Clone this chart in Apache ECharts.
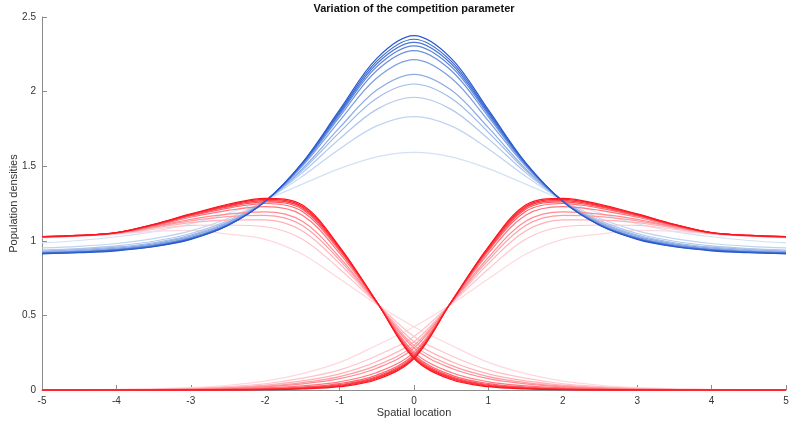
<!DOCTYPE html>
<html>
<head>
<meta charset="utf-8">
<script src="https://cdn.jsdelivr.net/npm/echarts@6/dist/echarts.min.js"></script>
<style>
  html, body { margin: 0; padding: 0; background: #fff; }
  #chart { width: 794px; height: 427px; }
</style>
</head>
<body>
<div id="chart"></div>
<script>
// spatial sample points
const xs = [-5, -4.5, -4, -3.5, -3, -2.5, -2, -1.5, -1, -0.5, 0, 0.5, 1, 1.5, 2, 2.5, 3, 3.5, 4, 4.5, 5]

// middle species (blue), lightest -> darkest
const blueDensity = [
  [0.986, 1.002, 1.027, 1.062, 1.114, 1.185, 1.275, 1.380, 1.484, 1.563, 1.593, 1.563, 1.484, 1.380, 1.275, 1.185, 1.114, 1.062, 1.027, 1.002, 0.986],
  [0.952, 0.963, 0.982, 1.015, 1.067, 1.149, 1.271, 1.433, 1.616, 1.770, 1.832, 1.770, 1.616, 1.433, 1.271, 1.149, 1.067, 1.015, 0.982, 0.963, 0.952],
  [0.938, 0.948, 0.966, 0.997, 1.049, 1.135, 1.268, 1.457, 1.683, 1.881, 1.962, 1.881, 1.683, 1.457, 1.268, 1.135, 1.049, 0.997, 0.966, 0.948, 0.938],
  [0.931, 0.941, 0.957, 0.987, 1.039, 1.126, 1.267, 1.473, 1.727, 1.956, 2.051, 1.956, 1.727, 1.473, 1.267, 1.126, 1.039, 0.987, 0.957, 0.941, 0.931],
  [0.926, 0.935, 0.951, 0.980, 1.031, 1.120, 1.267, 1.484, 1.758, 2.010, 2.116, 2.010, 1.758, 1.484, 1.267, 1.120, 1.031, 0.980, 0.951, 0.935, 0.926],
  [0.922, 0.930, 0.945, 0.973, 1.023, 1.113, 1.265, 1.500, 1.804, 2.091, 2.214, 2.091, 1.804, 1.500, 1.265, 1.113, 1.023, 0.973, 0.945, 0.930, 0.922],
  [0.919, 0.927, 0.941, 0.968, 1.019, 1.109, 1.265, 1.509, 1.831, 2.141, 2.274, 2.141, 1.831, 1.509, 1.265, 1.109, 1.019, 0.968, 0.941, 0.927, 0.919],
  [0.918, 0.925, 0.940, 0.966, 1.016, 1.107, 1.264, 1.514, 1.846, 2.167, 2.306, 2.167, 1.846, 1.514, 1.264, 1.107, 1.016, 0.966, 0.940, 0.925, 0.918],
  [0.917, 0.924, 0.938, 0.965, 1.014, 1.105, 1.264, 1.517, 1.856, 2.187, 2.330, 2.187, 1.856, 1.517, 1.264, 1.105, 1.014, 0.965, 0.938, 0.924, 0.917],
  [0.915, 0.922, 0.936, 0.962, 1.012, 1.104, 1.264, 1.520, 1.866, 2.204, 2.351, 2.204, 1.866, 1.520, 1.264, 1.104, 1.012, 0.962, 0.936, 0.922, 0.915],
  [0.913, 0.920, 0.933, 0.960, 1.010, 1.102, 1.264, 1.524, 1.877, 2.223, 2.375, 2.223, 1.877, 1.524, 1.264, 1.102, 1.010, 0.960, 0.933, 0.920, 0.913]
]

// left species (red), lightest -> darkest
const leftRed = [
  [1.020, 1.030, 1.045, 1.063, 1.070, 1.045, 1.010, 0.910, 0.745, 0.575, 0.424, 0.300, 0.185, 0.110, 0.060, 0.032, 0.016, 0.008, 0.004, 0.002, 0.001],
  [1.022, 1.032, 1.048, 1.077, 1.104, 1.106, 1.094, 1.011, 0.811, 0.580, 0.359, 0.230, 0.135, 0.079, 0.042, 0.023, 0.011, 0.006, 0.003, 0.001, 0.001],
  [1.024, 1.033, 1.050, 1.085, 1.122, 1.139, 1.140, 1.066, 0.847, 0.582, 0.323, 0.191, 0.108, 0.061, 0.033, 0.017, 0.008, 0.004, 0.002, 0.001, 0.001],
  [1.025, 1.034, 1.051, 1.091, 1.134, 1.162, 1.171, 1.103, 0.871, 0.584, 0.299, 0.165, 0.090, 0.050, 0.026, 0.014, 0.007, 0.003, 0.002, 0.001, 0.000],
  [1.025, 1.034, 1.052, 1.094, 1.144, 1.179, 1.194, 1.131, 0.889, 0.585, 0.281, 0.146, 0.076, 0.041, 0.021, 0.011, 0.005, 0.003, 0.001, 0.001, 0.000],
  [1.026, 1.035, 1.053, 1.100, 1.158, 1.204, 1.229, 1.172, 0.916, 0.587, 0.254, 0.117, 0.055, 0.028, 0.014, 0.007, 0.003, 0.002, 0.001, 0.000, 0.000],
  [1.027, 1.035, 1.054, 1.104, 1.166, 1.219, 1.250, 1.197, 0.932, 0.588, 0.238, 0.100, 0.043, 0.020, 0.010, 0.005, 0.002, 0.001, 0.001, 0.000, 0.000],
  [1.027, 1.036, 1.054, 1.106, 1.170, 1.227, 1.261, 1.211, 0.941, 0.589, 0.229, 0.090, 0.036, 0.016, 0.007, 0.004, 0.001, 0.001, 0.000, 0.000, 0.000],
  [1.028, 1.036, 1.054, 1.107, 1.174, 1.234, 1.269, 1.221, 0.948, 0.589, 0.222, 0.083, 0.031, 0.013, 0.005, 0.002, 0.001, 0.000, 0.000, 0.000, 0.000],
  [1.028, 1.036, 1.055, 1.109, 1.177, 1.239, 1.277, 1.230, 0.954, 0.590, 0.216, 0.077, 0.027, 0.010, 0.004, 0.001, 0.001, 0.000, 0.000, 0.000, 0.000],
  [1.028, 1.036, 1.055, 1.110, 1.180, 1.245, 1.285, 1.240, 0.960, 0.590, 0.210, 0.070, 0.022, 0.007, 0.002, 0.001, 0.000, 0.000, 0.000, 0.000, 0.000]
]

// right species (red), lightest -> darkest
const rightRed = [
  [0.001, 0.002, 0.004, 0.008, 0.016, 0.032, 0.060, 0.110, 0.185, 0.300, 0.424, 0.575, 0.745, 0.910, 1.010, 1.045, 1.070, 1.063, 1.045, 1.030, 1.020],
  [0.001, 0.001, 0.003, 0.006, 0.011, 0.023, 0.042, 0.079, 0.135, 0.230, 0.359, 0.580, 0.811, 1.011, 1.094, 1.106, 1.104, 1.077, 1.048, 1.032, 1.022],
  [0.001, 0.001, 0.002, 0.004, 0.008, 0.017, 0.033, 0.061, 0.108, 0.191, 0.323, 0.582, 0.847, 1.066, 1.140, 1.139, 1.122, 1.085, 1.050, 1.033, 1.024],
  [0.000, 0.001, 0.002, 0.003, 0.007, 0.014, 0.026, 0.050, 0.090, 0.165, 0.299, 0.584, 0.871, 1.103, 1.171, 1.162, 1.134, 1.091, 1.051, 1.034, 1.025],
  [0.000, 0.001, 0.001, 0.003, 0.005, 0.011, 0.021, 0.041, 0.076, 0.146, 0.281, 0.585, 0.889, 1.131, 1.194, 1.179, 1.144, 1.094, 1.052, 1.034, 1.025],
  [0.000, 0.000, 0.001, 0.002, 0.003, 0.007, 0.014, 0.028, 0.055, 0.117, 0.254, 0.587, 0.916, 1.172, 1.229, 1.204, 1.158, 1.100, 1.053, 1.035, 1.026],
  [0.000, 0.000, 0.001, 0.001, 0.002, 0.005, 0.010, 0.020, 0.043, 0.100, 0.238, 0.588, 0.932, 1.197, 1.250, 1.219, 1.166, 1.104, 1.054, 1.035, 1.027],
  [0.000, 0.000, 0.000, 0.001, 0.001, 0.004, 0.007, 0.016, 0.036, 0.090, 0.229, 0.589, 0.941, 1.211, 1.261, 1.227, 1.170, 1.106, 1.054, 1.036, 1.027],
  [0.000, 0.000, 0.000, 0.000, 0.001, 0.002, 0.005, 0.013, 0.031, 0.083, 0.222, 0.589, 0.948, 1.221, 1.269, 1.234, 1.174, 1.107, 1.054, 1.036, 1.028],
  [0.000, 0.000, 0.000, 0.000, 0.001, 0.001, 0.004, 0.010, 0.027, 0.077, 0.216, 0.590, 0.954, 1.230, 1.277, 1.239, 1.177, 1.109, 1.055, 1.036, 1.028],
  [0.000, 0.000, 0.000, 0.000, 0.000, 0.001, 0.002, 0.007, 0.022, 0.070, 0.210, 0.590, 0.960, 1.240, 1.285, 1.245, 1.180, 1.110, 1.055, 1.036, 1.028]
]

const xTicks = [-5, 5, 1]
const yTicks = [0, 2.5, 0.5]

const chart = echarts.init(document.getElementById('chart'), null, {renderer: 'canvas'})

function mix(c0, c1, t) {
  const c = c0.map((v, k) => Math.round(v + (c1[k] - v) * t))
  return 'rgb(' + c.join(',') + ')'
}
const blueLight = [208, 226, 245], blueDark = [40, 90, 205]
const redLight = [255, 216, 222], redDark = [255, 20, 30]

function makeLine(values, color) {
  return {
    type: 'line',
    data: xs.map((x, k) => [x, values[k]]),
    smooth: 0.35,
    symbol: 'none',
    clip: false,
    silent: true,
    lineStyle: {color: color, width: 1.2},
    animation: false
  }
}

let series = []
const n = blueDensity.length
for (let i = 0; i < n; i++) {
  const t = i / (n - 1)
  series.push(makeLine(blueDensity[i], mix(blueLight, blueDark, t)))
  series.push(makeLine(leftRed[i], mix(redLight, redDark, t)))
  series.push(makeLine(rightRed[i], mix(redLight, redDark, t)))
}

const axisColor = '#8c8c8c'
const textColor = '#333'
const option = {
  animation: false,
  title: {
    text: 'Variation of the competition parameter',
    left: 414,
    textAlign: 'center',
    top: 3,
    padding: 0,
    textStyle: {fontFamily: 'Liberation Sans', fontSize: 11, fontWeight: 'bold', color: '#111'}
  },
  grid: {left: 42, right: 8, top: 17, bottom: 37, containLabel: false, outerBoundsMode: 'none'},
  xAxis: {
    type: 'value',
    min: xTicks[0], max: xTicks[1], interval: xTicks[2],
    name: 'Spatial location',
    nameLocation: 'middle',
    nameGap: 17,
    nameMoveOverlap: false,
    nameTextStyle: {fontFamily: 'Liberation Sans', fontSize: 11, color: textColor, verticalAlign: 'top'},
    axisLine: {onZero: false, lineStyle: {color: axisColor}},
    axisTick: {inside: true, length: 5, lineStyle: {color: axisColor}},
    axisLabel: {fontFamily: 'Liberation Sans', fontSize: 10, color: textColor, margin: 6},
    splitLine: {show: false}
  },
  yAxis: {
    type: 'value',
    min: yTicks[0], max: yTicks[1], interval: yTicks[2],
    name: 'Population densities',
    nameLocation: 'middle',
    nameGap: 23,
    nameMoveOverlap: false,
    nameRotate: 90,
    nameTextStyle: {fontFamily: 'Liberation Sans', fontSize: 11, color: textColor},
    axisLine: {onZero: false, lineStyle: {color: axisColor}},
    axisTick: {inside: true, length: 5, lineStyle: {color: axisColor}},
    axisLabel: {fontFamily: 'Liberation Sans', fontSize: 10, color: textColor, margin: 6},
    splitLine: {show: false}
  },
  series: series
}
chart.setOption(option)
</script>
</body>
</html>
